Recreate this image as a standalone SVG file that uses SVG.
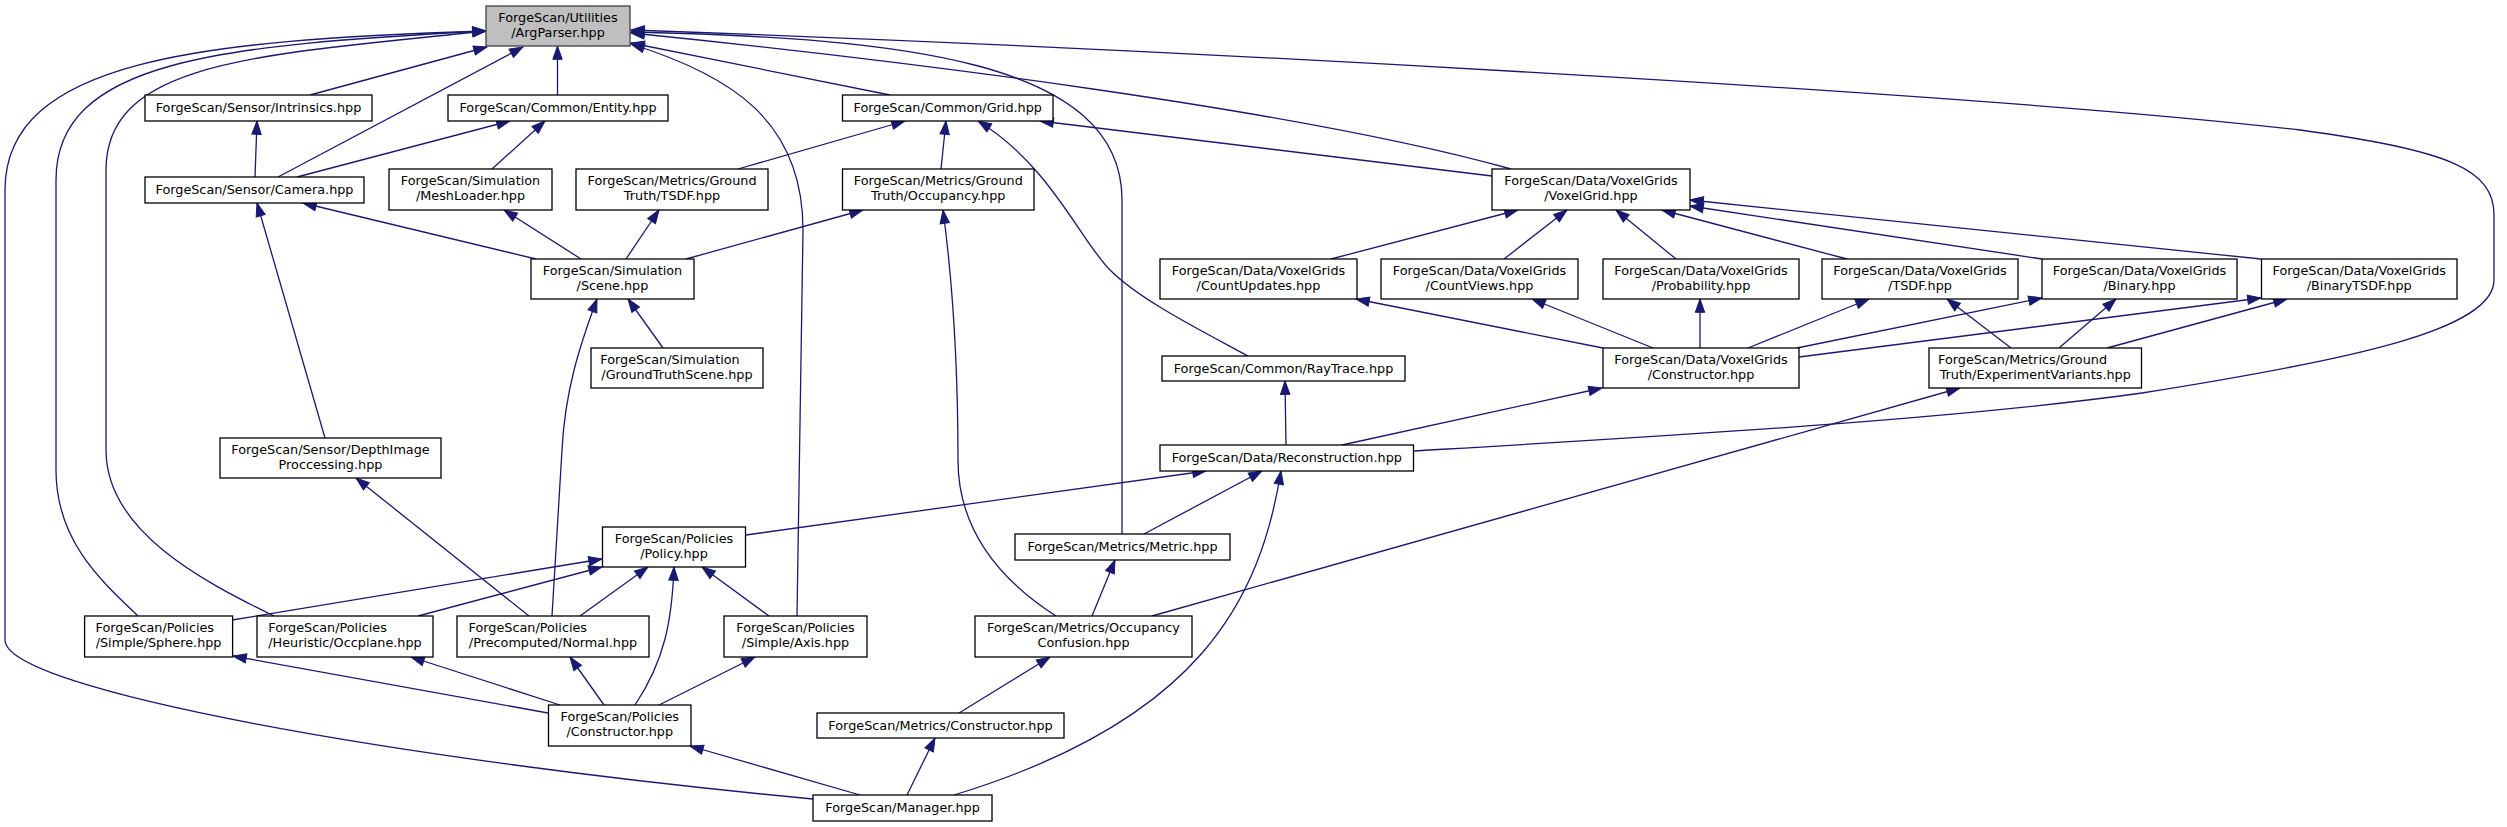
<svg xmlns="http://www.w3.org/2000/svg" width="2507" height="827" viewBox="0 0 2507 827">
<style>
.n rect{fill:#ffffff;stroke:#000000;stroke-width:1.3}
.root rect{fill:#bfbfbf;stroke:#404040}
text{font-family:"DejaVu Sans","Liberation Sans",sans-serif;font-size:12.8px;fill:#000000;text-anchor:middle}
text.l{text-anchor:start}
#edges path{fill:none;stroke:#191970;stroke-width:1.3;marker-start:url(#ah)}
</style>
<defs>
<marker id="ah" markerUnits="userSpaceOnUse" orient="auto-start-reverse" overflow="visible" markerWidth="14" markerHeight="10" refX="0" refY="0">
<path d="M0,0 L-13.3,-4.7 L-13.3,4.7 Z" fill="#191970" stroke="#191970" stroke-width="1"/>
</marker>
</defs>
<rect x="0" y="0" width="2507" height="827" fill="#ffffff"/>
<g id="edges">
<path d="M487,47 L310,95"/>
<path d="M523,47 L278,177"/>
<path d="M557.5,46 L557.5,95"/>
<path d="M486,31 C200,40 5,60 5,190 L5,640 C5,690 400,760 813,799"/>
<path d="M486,31 C220,45 56,60 56,180 L56,470 C56,540 100,580 138,616"/>
<path d="M486,31 C260,55 106,60 106,170 L106,450 C106,530 200,580 274,616"/>
<path d="M631,44 C730,75 803,120 803,230 L797,616"/>
<path d="M631,43 L890,95"/>
<path d="M631,32 C900,38 1122,60 1122,200 L1122,534"/>
<path d="M631,33 C900,60 1300,110 1511,169"/>
<path d="M631,30 C1200,50 2000,95 2300,130 C2450,150 2494,170 2494,215 L2494,280 C2494,330 2350,360 2142,393 C1950,420 1650,437 1413,451"/>
<path d="M510,121 L297,177"/>
<path d="M545,121 L492,169"/>
<path d="M257,121 L255,177"/>
<path d="M303,203 L536,259"/>
<path d="M257,203 L325,438"/>
<path d="M504,210 L581,259"/>
<path d="M659,210 L626,259"/>
<path d="M863,210 L686,259"/>
<path d="M905,121 L738,169"/>
<path d="M946,121 L941,169"/>
<path d="M978,121 C1050,165 1080,240 1110,270 S1200,330 1248,356"/>
<path d="M1040,121 L1492,176"/>
<path d="M628,299 L663,348"/>
<path d="M597,299 C580,345 565,390 562,450 L552,616"/>
<path d="M356,478 L529,616"/>
<path d="M943,210 C955,300 958,380 958,460 C958,530 1000,580 1056,616"/>
<path d="M1518,210 L1331,259"/>
<path d="M1567,210 L1504,259"/>
<path d="M1616,210 L1676,259"/>
<path d="M1662,210 L1847,259"/>
<path d="M1690,206 L2042,259"/>
<path d="M1690,200 L2261,259"/>
<path d="M1356,299 L1603,348"/>
<path d="M1532,299 L1653,348"/>
<path d="M1700,299 L1700,348"/>
<path d="M1869,299 L1748,348"/>
<path d="M2042,298 L1797,348"/>
<path d="M2261,298 L1799,357"/>
<path d="M1947,299 L2011,348"/>
<path d="M2116,299 L2059,348"/>
<path d="M2287,299 L2107,348"/>
<path d="M1602,388 L1342,445"/>
<path d="M1285,381 L1286,445"/>
<path d="M1206,471 L746,535"/>
<path d="M1262,471 L1144,534"/>
<path d="M1281,471 C1260,600 1200,720 954,795"/>
<path d="M1115,560 L1092,616"/>
<path d="M1960,388 L1152,616"/>
<path d="M1050,657 L959,713"/>
<path d="M935,738 L907,795"/>
<path d="M602,559 L232,620"/>
<path d="M602,567 L418,616"/>
<path d="M648,567 L580,616"/>
<path d="M702,567 L769,616"/>
<path d="M674,567 C672,620 665,660 635,705"/>
<path d="M233,656 L548,713"/>
<path d="M411,657 L560,705"/>
<path d="M570,657 L604,705"/>
<path d="M755,657 L659,705"/>
<path d="M690,746 L860,795"/>
</g>
<g id="argparser" class="n root"><rect x="486" y="6" width="144" height="40"/><text x="558" y="21.8">ForgeScan/Utilities</text><text x="558" y="36.8">/ArgParser.hpp</text></g>
<g id="intrinsics" class="n"><rect x="145" y="95" width="227" height="26"/><text x="258.5" y="112">ForgeScan/Sensor/Intrinsics.hpp</text></g>
<g id="entity" class="n"><rect x="448" y="95" width="220" height="26"/><text x="558" y="112">ForgeScan/Common/Entity.hpp</text></g>
<g id="grid" class="n"><rect x="842.5" y="95" width="210.5" height="26"/><text x="947.75" y="112">ForgeScan/Common/Grid.hpp</text></g>
<g id="camera" class="n"><rect x="145" y="177" width="219" height="26"/><text x="254.5" y="194">ForgeScan/Sensor/Camera.hpp</text></g>
<g id="meshloader" class="n"><rect x="389" y="169" width="163" height="41"/><text x="470.5" y="185.3">ForgeScan/Simulation</text><text x="470.5" y="200.3">/MeshLoader.hpp</text></g>
<g id="gt_tsdf" class="n"><rect x="576" y="169" width="192" height="41"/><text x="672" y="185.3">ForgeScan/Metrics/Ground</text><text x="672" y="200.3">Truth/TSDF.hpp</text></g>
<g id="gt_occupancy" class="n"><rect x="842.5" y="169" width="191.5" height="41"/><text x="938.25" y="185.3">ForgeScan/Metrics/Ground</text><text x="938.25" y="200.3">Truth/Occupancy.hpp</text></g>
<g id="voxelgrid" class="n"><rect x="1492" y="169" width="198" height="41"/><text x="1591" y="185.3">ForgeScan/Data/VoxelGrids</text><text x="1591" y="200.3">/VoxelGrid.hpp</text></g>
<g id="scene" class="n"><rect x="531" y="259" width="163" height="40"/><text x="612.5" y="274.8">ForgeScan/Simulation</text><text x="612.5" y="289.8">/Scene.hpp</text></g>
<g id="countupdates" class="n"><rect x="1160" y="259" width="197" height="40"/><text x="1258.5" y="274.8">ForgeScan/Data/VoxelGrids</text><text x="1258.5" y="289.8">/CountUpdates.hpp</text></g>
<g id="countviews" class="n"><rect x="1381" y="259" width="197" height="40"/><text x="1479.5" y="274.8">ForgeScan/Data/VoxelGrids</text><text x="1479.5" y="289.8">/CountViews.hpp</text></g>
<g id="probability" class="n"><rect x="1603" y="259" width="196" height="40"/><text x="1701" y="274.8">ForgeScan/Data/VoxelGrids</text><text x="1701" y="289.8">/Probability.hpp</text></g>
<g id="tsdf" class="n"><rect x="1822" y="259" width="196" height="40"/><text x="1920" y="274.8">ForgeScan/Data/VoxelGrids</text><text x="1920" y="289.8">/TSDF.hpp</text></g>
<g id="binary" class="n"><rect x="2042" y="259" width="195" height="40"/><text x="2139.5" y="274.8">ForgeScan/Data/VoxelGrids</text><text x="2139.5" y="289.8">/Binary.hpp</text></g>
<g id="binarytsdf" class="n"><rect x="2261.5" y="259" width="195.5" height="40"/><text x="2359.25" y="274.8">ForgeScan/Data/VoxelGrids</text><text x="2359.25" y="289.8">/BinaryTSDF.hpp</text></g>
<g id="groundtruthscene" class="n"><rect x="591" y="348" width="172" height="40"/><text class="l" x="600.3" y="363.8">ForgeScan/Simulation</text><text x="677" y="378.8">/GroundTruthScene.hpp</text></g>
<g id="raytrace" class="n"><rect x="1162" y="356" width="243" height="25"/><text x="1283.5" y="372.5">ForgeScan/Common/RayTrace.hpp</text></g>
<g id="vg_constructor" class="n"><rect x="1603" y="348" width="196" height="40"/><text x="1701" y="363.8">ForgeScan/Data/VoxelGrids</text><text x="1701" y="378.8">/Constructor.hpp</text></g>
<g id="experimentvariants" class="n"><rect x="1929" y="348" width="212.5" height="40"/><text class="l" x="1938" y="363.8">ForgeScan/Metrics/Ground</text><text x="2035.25" y="378.8">Truth/ExperimentVariants.hpp</text></g>
<g id="depthimage" class="n"><rect x="220" y="438" width="221" height="40"/><text x="330.5" y="453.8">ForgeScan/Sensor/DepthImage</text><text x="330.5" y="468.8">Proccessing.hpp</text></g>
<g id="reconstruction" class="n"><rect x="1160" y="445" width="253.5" height="26"/><text x="1286.75" y="462">ForgeScan/Data/Reconstruction.hpp</text></g>
<g id="policy" class="n"><rect x="602.5" y="527" width="143" height="40"/><text x="674" y="542.8">ForgeScan/Policies</text><text x="674" y="557.8">/Policy.hpp</text></g>
<g id="metric" class="n"><rect x="1015" y="534" width="215" height="26"/><text x="1122.5" y="551">ForgeScan/Metrics/Metric.hpp</text></g>
<g id="sphere" class="n"><rect x="84.6" y="616" width="148" height="41"/><text class="l" x="95.5" y="632.3">ForgeScan/Policies</text><text x="158.6" y="647.3">/Simple/Sphere.hpp</text></g>
<g id="occplane" class="n"><rect x="257" y="616" width="176" height="41"/><text class="l" x="268.3" y="632.3">ForgeScan/Policies</text><text x="345" y="647.3">/Heuristic/Occplane.hpp</text></g>
<g id="normal" class="n"><rect x="457" y="616" width="192" height="41"/><text class="l" x="468.5" y="632.3">ForgeScan/Policies</text><text x="553" y="647.3">/Precomputed/Normal.hpp</text></g>
<g id="axis" class="n"><rect x="724" y="616" width="143" height="41"/><text x="795.5" y="632.3">ForgeScan/Policies</text><text x="795.5" y="647.3">/Simple/Axis.hpp</text></g>
<g id="occupancyconfusion" class="n"><rect x="975" y="616" width="217" height="41"/><text x="1083.5" y="632.3">ForgeScan/Metrics/Occupancy</text><text x="1083.5" y="647.3">Confusion.hpp</text></g>
<g id="policies_constructor" class="n"><rect x="548.5" y="705" width="142.5" height="41"/><text x="619.75" y="721.3">ForgeScan/Policies</text><text x="619.75" y="736.3">/Constructor.hpp</text></g>
<g id="metrics_constructor" class="n"><rect x="817" y="713" width="247" height="25"/><text x="940.5" y="729.5">ForgeScan/Metrics/Constructor.hpp</text></g>
<g id="manager" class="n"><rect x="813" y="795" width="179" height="26"/><text x="902.5" y="812">ForgeScan/Manager.hpp</text></g>
</svg>
